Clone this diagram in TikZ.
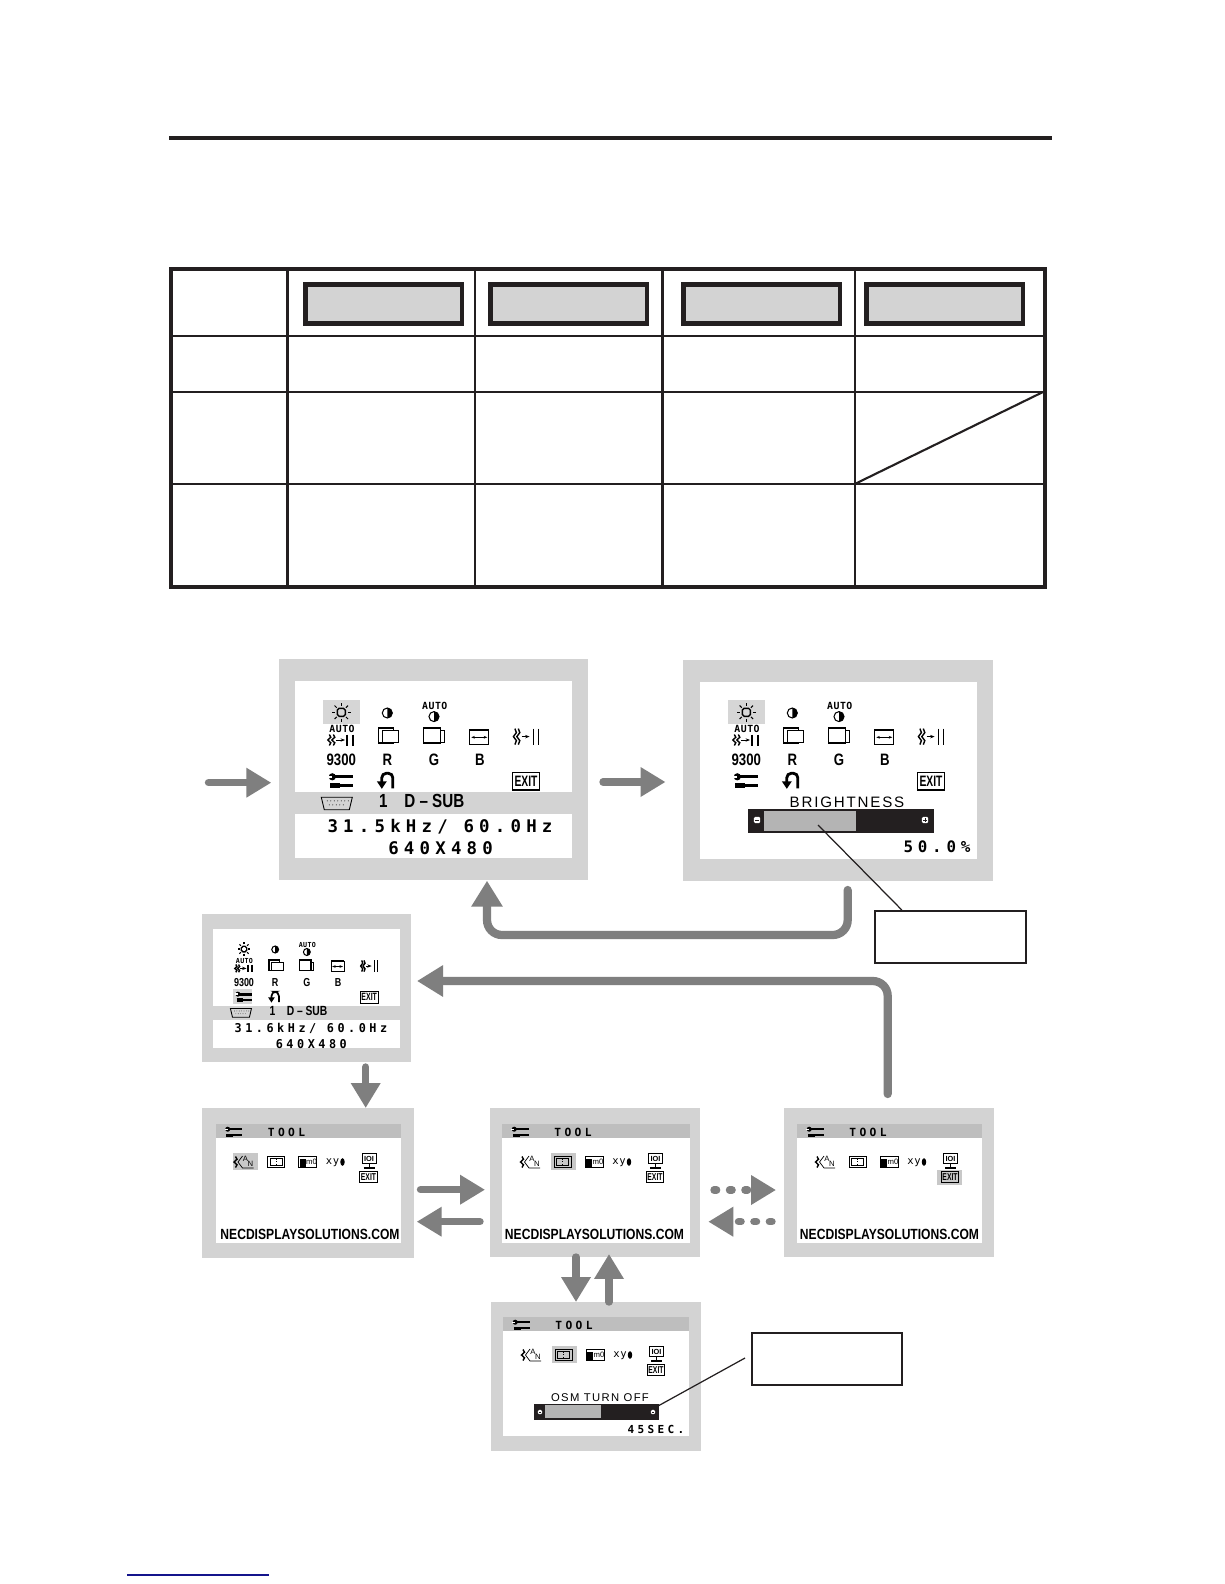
\documentclass[tikz,border=0pt]{standalone}
\usepackage{fontspec}
\setmainfont{Liberation Sans}
\newfontfamily\osdfont[LetterSpace=30]{DejaVu Sans Mono}
\newfontfamily\tightfont[LetterSpace=5]{DejaVu Sans Mono}
\newfontfamily\widefont[LetterSpace=12]{Liberation Sans}
\newfontfamily\condfont[FakeStretch=.8]{Liberation Sans}
\newfontfamily\exitfont[FakeStretch=.68]{Liberation Sans}
\newfontfamily\urlfont[FakeStretch=.82]{Liberation Sans}
\usetikzlibrary{arrows.meta}

\definecolor{rulecol}{HTML}{231F20}
\definecolor{panelgray}{HTML}{D3D3D3}
\definecolor{bandgray}{HTML}{BEBEBE}
\definecolor{markgray}{HTML}{D6D6D6}
\definecolor{toolmark}{HTML}{C8C8C8}
\definecolor{bargray}{HTML}{B4B4B4}
\definecolor{flowgray}{HTML}{7F7F7F}
\definecolor{linkblue}{HTML}{14148C}

\tikzset{
    headbox/.style={draw=rulecol, fill=panelgray, line width=2.55pt, minimum width=3.13cm, minimum height=.78cm, inner sep=0pt},
    screenbox/.style 2 args={fill=panelgray, minimum width=#1, minimum height=#2, inner sep=0pt},
    notebox/.style={draw=rulecol, fill=white, line width=1.1pt, minimum width=3cm, minimum height=1.04cm, inner sep=0pt},
    flowarrow/.style={draw=flowgray, line width=4.2pt, line cap=round, -{Triangle[length=14.2pt,width=16pt]}},
    bentarrow/.style={flowarrow, line width=4.7pt, rounded corners=8.5pt, -{Triangle[length=14.8pt,width=17pt]}},
    dotarrow/.style={flowarrow, dash pattern=on 1.5pt off 7.3pt},
    leader/.style={draw=rulecol, line width=.7pt},
    osdbig/.style={font=\osdfont\bfseries\fontsize{9.9}{9.9}\selectfont, inner sep=0pt},
    osdsmall/.style={font=\tightfont\bfseries\fontsize{5.6}{6}\selectfont, inner sep=0pt},
    osdcond/.style={font=\condfont\bfseries\fontsize{9.4}{9.4}\selectfont, inner sep=0pt},
    osdsans/.style={font=\condfont\bfseries\fontsize{10.8}{10.8}\selectfont, inner sep=0pt, anchor=base},
    exitbox/.style={draw, line width=.7pt, font=\exitfont\bfseries\fontsize{8.6}{8.6}\selectfont, minimum width=.53cm, minimum height=.35cm, inner sep=0pt},
}

\newcommand{\iconlw}{1}

% squiggle used by the auto adjust and fine icons
\newcommand{\wiggle}[3]{%
    \draw[line width=.8pt] (#1,#2-#3) -- (#1+1.5,#2-.5*#3) -- (#1-1.5,#2) -- (#1+1.5,#2+.5*#3) -- (#1,#2+#3);
}

\newcommand{\wrenchicon}[3]{%
    \begin{scope}[shift={(#1,#2)},scale=#3]
        \draw[line width=#3*1.7pt] (-8,-4) -- (12,-4);
        \fill (-9,-4) circle (3.6);
        \fill[white] (-13,-5) rectangle (-9,-3.2);
        \draw[line width=#3*2.6pt] (-11,4.5) -- (-1,4.5);
        \draw[line width=#3*1.4pt] (-1,4.5) -- (12,4.5);
    \end{scope}
}

% icon grid of the main menu, the origin is the sun icon
\newcommand{\osdicons}[1]{%
    \draw[line width=.8pt, rounded corners=1pt] (-4,-4) rectangle (4,4);
    \foreach \ang in {0,45,...,315} \draw[line width=.6pt] (\ang:6.5) -- (\ang:9.5);

    \draw[line width=.6pt] (46,.7) circle (5);
    \fill (46,-4.3) arc (-90:90:5) -- cycle;

    \node[osdsmall] (#1-autoa) at (93.5,-6.3) {AUTO};
    \draw[line width=.6pt] (92.7,4.3) circle (5);
    \fill (92.7,-.7) arc (-90:90:5) -- cycle;

    \node[osdsmall] (#1-autob) at (.7,17) {AUTO};
    \wiggle{-12}{27.7}{5.5}
    \wiggle{-8}{27.7}{5.5}
    \draw[line width=.4pt, -{Stealth[length=2.5pt]}] (-5.5,27.7) -- (3.7,27.7);
    \draw[line width=1.1pt] (6,22.2) -- (6,33.2);
    \draw[line width=1.1pt] (11.3,22.2) -- (11.3,33.2);

    \draw[line width=.8pt] (37,15.5) rectangle (52,30.5);
    \draw[line width=.5pt, fill=white] (41,18.5) rectangle (57.5,30.5);
    \draw[line width=.5pt] (86,18.5) rectangle (103,30.5);
    \draw[line width=.8pt, fill=white] (82,15.5) rectangle (99,30.5);
    \draw[line width=.5pt] (128.5,17.5) rectangle (147.5,32.5);
    \draw[line width=.9pt] (128.5,17.5) -- (147.5,17.5);
    \draw[line width=.35pt, {Stealth[length=2pt]}-{Stealth[length=2pt]}] (130,25) -- (146,25);

    \wiggle{173.6}{24.3}{8}
    \wiggle{177}{24.3}{8}
    \draw[line width=.4pt, -{Stealth[length=2.5pt]}] (180.3,24.3) -- (188.3,24.3);
    \draw[line width=.6pt] (192,16.3) -- (192,32.3);
    \draw[line width=.6pt] (197.3,16.3) -- (197.3,32.3);

    \node[osdcond] (#1-k9300) at (0,48) {9300};
    \node[osdcond] (#1-red) at (46,48) {R};
    \node[osdcond] (#1-green) at (92.7,48) {G};
    \node[osdcond] (#1-blue) at (138.7,48) {B};

    \wrenchicon{0}{68.5}{1}
    \draw[line width=\iconlw*1.6pt, rounded corners=2.5pt] (51.5,76) -- (51.5,61) -- (40.5,61) -- (40.5,70);
    \fill (35.5,69) -- (45.5,69) -- (40.5,76.5) -- cycle;
    \node[exitbox] (#1-exit) at (184.7,69) {EXIT};
}

% band and signal lines below the icons of the main menu
\newcommand{\osdsignal}[2]{%
    \draw[line width=.5pt] (-20,85) -- (11,85) -- (8,97.5) -- (-17,97.5) -- cycle;
    \foreach \dotx in {-14,-10.5,...,7} \fill (\dotx,88.5) circle (.5);
    \foreach \dotx in {-12,-8.5,...,5} \fill (\dotx,92.5) circle (.5);
    \node[osdsans] (#1-one) at (42,95.5) {1};
    \node[osdsans] (#1-dsub) at (93,95.5) {D – SUB};
    \node[osdbig] (#1-freq) at (98.7,114) {#2/ 60.0Hz};
    \node[osdbig] (#1-mode) at (99.3,136) {640X480};
}

% tool menu, the origin is the top left corner of the white pane
\newcommand{\toolicons}[4]{%
    \fill[white] (0,0) rectangle (#2,119);
    \fill[bandgray] (0,0) rectangle (#2,14);
    \fill[toolmark] (#3) rectangle (#4);
    \wrenchicon{18.5}{8}{.7}
    \node[font=\osdfont\bfseries\fontsize{6.4}{6.4}\selectfont, inner sep=0pt] (#1-title) at (71,8) {TOOL};

    \wiggle{20}{38}{5.5}
    \draw[line width=.4pt] (27,32) -- (22.5,38) -- (27,44) -- (38,44);
    \node[font=\fontsize{4.4}{4.4}\selectfont, inner sep=0pt] (#1-langa) at (30,35) {A};
    \node[font=\fontsize{4.4}{4.4}\selectfont, inner sep=0pt] (#1-langn) at (35,40) {N};

    \draw[line width=.5pt] (52,32.5) rectangle (69,43.5);
    \draw[line width=.4pt] (54.5,34.5) rectangle (66.5,41.5);
    \draw[line width=.4pt, densely dotted] (60.5,35) -- (60.5,41);

    \draw[line width=.5pt] (83,32.5) rectangle (101,43.5);
    \fill (84,35) rectangle (90,43);
    \node[font=\fontsize{4.4}{4.4}\selectfont, inner sep=0pt] (#1-lockm) at (96,38) {m0};

    \node[font=\tightfont\fontsize{6}{6}\selectfont, inner sep=0pt] (#1-xy) at (117,38.5) {xy};
    \fill (127,38) ellipse (2.2 and 3.8);

    \draw[line width=.5pt] (146.5,29.5) rectangle (160.5,39.5);
    \node[font=\bfseries\fontsize{4.2}{4.2}\selectfont, inner sep=0pt] (#1-mon) at (153.5,34.5) {IOI};
    \draw[line width=.5pt] (153.5,39.5) -- (153.5,43);
    \draw[line width=.6pt] (148,44) -- (159,44);

    \node[exitbox, scale=.66] (#1-exit) at (153,53) {EXIT};
}

\newcommand{\urlline}[2]{%
    \node[font=\urlfont\bfseries\fontsize{8.4}{8.4}\selectfont, inner sep=0pt] (#1-url) at (#2,110) {NECDISPLAYSOLUTIONS.COM};
}

\newcommand{\sliderend}[3]{%
    \fill[white, rounded corners=.8pt] (#1-#3,#2-#3) rectangle (#1+#3,#2+#3);
    \draw[rulecol, line width=.5pt] (#1-.5*#3,#2) -- (#1+.5*#3,#2);
}

\begin{document}
\begin{tikzpicture}[x=.02cm, y=-.02cm]

    \useasboundingbox (0,0) rectangle (1224,1584);
    \fill[white] (0,0) rectangle (1224,1584);

    % page rule and link line
    \draw[rulecol, line width=1.8pt] (169,138) -- (1051.5,138);
    \draw[linkblue, line width=.6pt] (127,1575) -- (269,1575);

    % table
    \foreach \rowy in {336,392,484} \draw[rulecol, line width=1pt] (171,\rowy) -- (1045,\rowy);
    \draw[rulecol, line width=1.5pt] (287.5,269) -- (287.5,587);
    \foreach \colx in {475,854.8} \draw[rulecol, line width=1.1pt] (\colx,269) -- (\colx,587);
    \draw[rulecol, line width=1.5pt] (662.6,269) -- (662.6,587);
    \draw[rulecol, line width=1.9pt] (171,269) rectangle (1045,587);
    \draw[rulecol, line width=1.2pt] (854.8,484) -- (1043,392);

    \node[headbox] (head1) at (383.7,304) {};
    \node[headbox] (head2) at (568.7,304) {};
    \node[headbox] (head3) at (761.7,304) {};
    \node[headbox] (head4) at (944.5,304) {};

    % screens
    \node[screenbox={6.18cm}{4.42cm}] (scrA) at (433.5,769.5) {};
    \node[screenbox={6.2cm}{4.42cm}] (scrB) at (838,770.3) {};
    \node[screenbox={4.18cm}{2.96cm}] (scrC) at (306.5,988) {};
    \node[screenbox={4.24cm}{3cm}] (scrD) at (308,1183) {};
    \node[screenbox={4.2cm}{2.98cm}] (scrE) at (595,1182.5) {};
    \node[screenbox={4.2cm}{2.98cm}] (scrF) at (889,1182.5) {};
    \node[screenbox={4.2cm}{2.98cm}] (scrG) at (596,1376.5) {};

    % main menu
    \fill[white] (295,681) rectangle (572,792);
    \fill[white] (295,814) rectangle (572,858);
    \fill[markgray] (323,700) rectangle (360,724);
    \begin{scope}[shift={(341.3,712.3)}]
        \osdicons{a}
        \osdsignal{a}{31.5kHz}
    \end{scope}

    % brightness menu
    \fill[white] (700,682) rectangle (977,859);
    \fill[markgray] (728,700) rectangle (765,724);
    \begin{scope}[shift={(746.3,712.3)}]
        \osdicons{b}
    \end{scope}
    \node[font=\widefont\fontsize{8.6}{8.6}\selectfont, inner sep=0pt] (b-title) at (847,802) {BRIGHTNESS};
    \fill[rulecol] (748,809) rectangle (934,833);
    \fill[bargray] (764,811) rectangle (856,831);
    \sliderend{757}{820}{3.2}
    \sliderend{925}{820}{3.2}
    \draw[rulecol, line width=.5pt] (925,818.4) -- (925,821.6);
    \node[font=\osdfont\bfseries\fontsize{9}{9}\selectfont, inner sep=0pt] (b-value) at (937,847) {50.0\%};

    % small copy of the main menu
    \fill[white] (213,929) rectangle (400,1006);
    \fill[white] (213,1020) rectangle (400,1048);
    \fill[markgray] (233,989) rectangle (252,1004);
    \begin{scope}[shift={(244,949)}, xscale=.678, yscale=.7, transform shape]
        \renewcommand{\iconlw}{.6}
        \osdicons{c}
        \osdsignal{c}{31.6kHz}
    \end{scope}

    % tool menus
    \begin{scope}[shift={(215.5,1124)}]
        \toolicons{d}{185.5}{17.5,29}{42.5,46}
        \urlline{d}{94.5}
    \end{scope}
    \begin{scope}[shift={(502,1124)}]
        \toolicons{e}{188}{49,29}{74,46}
        \urlline{e}{92.5}
    \end{scope}
    \begin{scope}[shift={(797,1124)}]
        \toolicons{f}{185}{140,46}{165,61}
        \urlline{f}{92.5}
    \end{scope}
    \begin{scope}[shift={(503,1317)}]
        \toolicons{g}{186}{49,29}{74,46}
    \end{scope}
    \node[font=\widefont\fontsize{6.4}{6.4}\selectfont, inner sep=0pt] (g-title) at (600,1398) {OSM TURN OFF};
    \fill[rulecol] (534,1404) rectangle (659,1420);
    \fill[bargray] (545,1405) rectangle (601,1418);
    \sliderend{540}{1412}{2.2}
    \sliderend{653}{1412}{2.2}
    \node[font=\osdfont\bfseries\fontsize{6.3}{6.3}\selectfont, inner sep=0pt] (g-value) at (656,1429) {45SEC.};

    % note boxes
    \node[notebox, minimum width=3.02cm] (noteB) at (950.5,937) {};
    \node[notebox] (noteG) at (827,1359) {};

    \coordinate (tipB) at (818,825);
    \coordinate (tipG) at (658,1406);
    \coordinate (endG) at (745,1358);
    \draw[leader] (tipB) -- (noteB.151);
    \draw[leader] (tipG) -- (endG);

    % arrows
    \coordinate (inS) at (208.5,782.7);
    \coordinate (inE) at (271.3,782.7);
    \coordinate (abS) at (603,782);
    \coordinate (abE) at (665.5,782);
    \coordinate (baS) at (847.7,890);
    \coordinate (baM) at (847.7,935);
    \coordinate (baN) at (487,935);
    \coordinate (baE) at (487,880.7);
    \coordinate (fcS) at (887.7,1094);
    \coordinate (fcM) at (887.7,981);
    \coordinate (fcE) at (417,981);
    \coordinate (cdS) at (365.7,1067);
    \coordinate (cdE) at (365.7,1108);
    \coordinate (deS) at (420.5,1189.7);
    \coordinate (deE) at (485,1189.7);
    \coordinate (edS) at (480,1221.7);
    \coordinate (edE) at (416.7,1221.7);
    \coordinate (egS) at (576,1257);
    \coordinate (egE) at (576,1302);
    \coordinate (geS) at (609,1302);
    \coordinate (geE) at (609,1254);
    \coordinate (efS) at (714,1190);
    \coordinate (efE) at (776,1190);
    \coordinate (feS) at (772,1221.7);
    \coordinate (feE) at (708.3,1221.7);

    \draw[flowarrow] (inS) -- (inE);
    \draw[flowarrow] (abS) -- (abE);
    \draw[bentarrow] (baS) -- (baM) -- (baN) -- (baE);
    \draw[bentarrow] (fcS) -- (fcM) -- (fcE);
    \draw[flowarrow] (cdS) -- (cdE);
    \draw[flowarrow] (deS) -- (deE);
    \draw[flowarrow] (edS) -- (edE);
    \draw[flowarrow] (egS) -- (egE);
    \draw[flowarrow] (geS) -- (geE);
    \draw[dotarrow] (efS) -- (efE);
    \draw[dotarrow] (feS) -- (feE);

\end{tikzpicture}
\end{document}
